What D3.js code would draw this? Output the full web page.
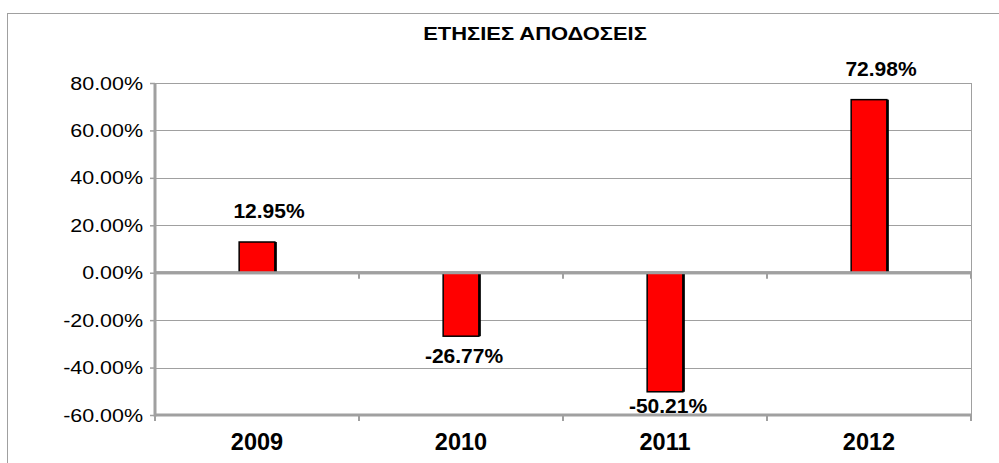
<!DOCTYPE html>
<html>
<head>
<meta charset="utf-8">
<script src="https://cdn.jsdelivr.net/npm/d3@7"></script>
<style>
  html, body { margin: 0; padding: 0; background: #fff; }
  svg { display: block; font-family: "Liberation Sans", Arial, sans-serif; }
</style>
</head>
<body>
<svg id="chart" width="999" height="463"></svg>
<script>
const title = "ΕΤΗΣΙΕΣ ΑΠΟΔΟΣΕΙΣ";
const years = ["2009", "2010", "2011", "2012"];
const returns = [12.95, -26.77, -50.21, 72.98];
const yTicks = [80, 60, 40, 20, 0, -20, -40, -60];

const svg = d3.select("#chart");
const plotLeft = 155, plotRight = 971, plotTop = 83, plotBottom = 415;

// plain hyphen instead of d3's unicode minus
const pct = d3.formatLocale({ decimal: ".", thousands: ",", grouping: [3], currency: ["", ""], minus: "-" }).format(".2f");
const fmt = d => pct(d) + "%";

// stretched text helper (picture text is wider than it is tall)
const stretchText = function (g, x, y, txt, sx) {
    return g.append("g")
        .attr("transform", `translate(${x},${y}) scale(${sx},1)`)
        .append("text")
        .text(txt);
}

// outer chart border
svg.append("rect")
    .attr("x", 7.5).attr("y", 13.5)
    .attr("width", 1100).attr("height", 600)
    .attr("fill", "none").attr("stroke", "#a0a0a0").attr("stroke-width", 1);

const x = d3.scaleBand().domain(years).range([plotLeft, plotRight]).padding(0);
const y = d3.scaleLinear().domain([-60, 80]).range([plotBottom, plotTop]);

// gridlines
svg.append("g").selectAll("line")
    .data(yTicks)
    .join("line")
    .attr("x1", plotLeft).attr("x2", plotRight)
    .attr("y1", d => Math.round(y(d)) + 0.5).attr("y2", d => Math.round(y(d)) + 0.5)
    .attr("stroke", "#a0a0a0").attr("stroke-width", 1);

// right border of plot area
svg.append("line")
    .attr("x1", plotRight + 0.5).attr("x2", plotRight + 0.5)
    .attr("y1", plotTop).attr("y2", plotBottom)
    .attr("stroke", "#a0a0a0");

// y axis
const yAxis = svg.append("g")
    .attr("transform", `translate(${plotLeft},0)`)
    .call(d3.axisLeft(y).tickValues(yTicks).tickSize(5).tickPadding(6).tickFormat(fmt));
yAxis.select(".domain").remove();
yAxis.selectAll(".tick line").attr("stroke", "#a0a0a0").attr("stroke-width", 1.5);
yAxis.selectAll(".tick text").remove();
yAxis.selectAll(".tick").each(function (d) {
    stretchText(d3.select(this), -12, 6, fmt(d), 1.16)
        .attr("text-anchor", "end")
        .attr("font-size", "18.5px")
        .attr("fill", "#000");
});
svg.append("line")
    .attr("x1", plotLeft).attr("x2", plotLeft)
    .attr("y1", plotTop).attr("y2", plotBottom + 1.5)
    .attr("stroke", "#a0a0a0").attr("stroke-width", 3);

// category ticks on zero line and on bottom line
const boundaries = years.map(d => x(d)).concat([plotRight]);
[y(0), plotBottom].forEach(yy => {
    svg.append("line")
        .attr("x1", plotLeft).attr("x2", plotRight + 1)
        .attr("y1", yy).attr("y2", yy)
        .attr("stroke", "#a0a0a0").attr("stroke-width", 3);
    svg.append("g").selectAll("line")
        .data(boundaries)
        .join("line")
        .attr("x1", d => d).attr("x2", d => d)
        .attr("y1", yy).attr("y2", yy + 6)
        .attr("stroke", "#a0a0a0").attr("stroke-width", 2);
});

// bars
const bw = x.bandwidth() * 0.175;
const bars = svg.append("g");
bars.selectAll("rect.shadow")
    .data(returns)
    .join("rect")
    .attr("class", "shadow")
    .attr("x", (d, i) => x(years[i]) + x.bandwidth() / 2 - bw / 2 + 2)
    .attr("y", d => Math.min(y(d), y(0)))
    .attr("width", bw)
    .attr("height", d => Math.abs(y(d) - y(0)))
    .attr("fill", "#000");
bars.selectAll("rect.bar")
    .data(returns)
    .join("rect")
    .attr("class", "bar")
    .attr("x", (d, i) => x(years[i]) + x.bandwidth() / 2 - bw / 2)
    .attr("y", d => Math.min(y(d), y(0)))
    .attr("width", bw)
    .attr("height", d => Math.abs(y(d) - y(0)))
    .attr("fill", "#ff0000")
    .attr("stroke", "#000").attr("stroke-width", 1.5);

// zero line drawn over bars
svg.append("line")
    .attr("x1", plotLeft).attr("x2", plotRight + 1)
    .attr("y1", y(0)).attr("y2", y(0))
    .attr("stroke", "#a0a0a0").attr("stroke-width", 3);

// value labels
svg.append("g").selectAll("text")
    .data(returns)
    .join("text")
    .attr("x", (d, i) => x(years[i]) + x.bandwidth() / 2 + (d > 0 ? 12 : 3))
    .attr("y", d => d > 0 ? y(d) - 24 : Math.min(y(d) + 27, plotBottom - 2))
    .attr("text-anchor", "middle")
    .attr("font-size", "21px")
    .attr("font-weight", "bold")
    .attr("fill", "#000")
    .text(fmt);

// category labels
svg.append("g").selectAll("text")
    .data(years)
    .join("text")
    .attr("x", d => x(d) + x.bandwidth() / 2)
    .attr("y", 450)
    .attr("text-anchor", "middle")
    .attr("font-size", "23.5px")
    .attr("font-weight", "bold")
    .attr("fill", "#000")
    .text(d => d);

// title
stretchText(svg, 535, 39.5, title, 1.22)
    .attr("text-anchor", "middle")
    .attr("font-size", "18px")
    .attr("font-weight", "bold")
    .attr("fill", "#000");
</script>
</body>
</html>
